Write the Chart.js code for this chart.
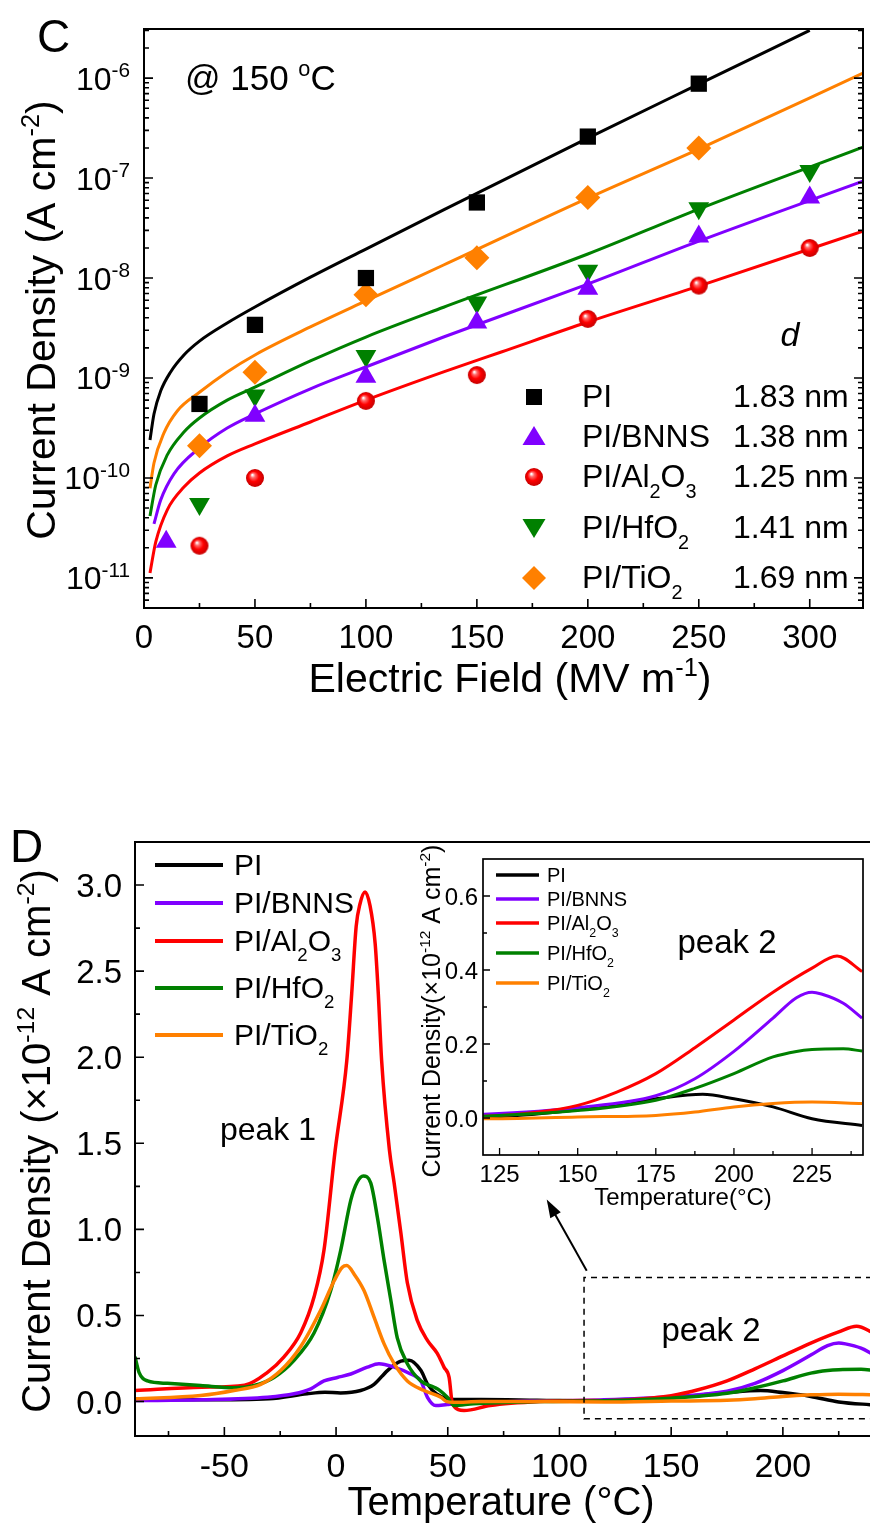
<!DOCTYPE html>
<html>
<head>
<meta charset="utf-8">
<script src="https://cdn.jsdelivr.net/npm/chart.js@4.4.1/dist/chart.umd.min.js"></script>
<style>
  body { margin: 0; background: #fff; }
  #wrap { position: relative; width: 870px; height: 1528px; }
  canvas { position: absolute; }
</style>
</head>
<body>
<div id="wrap">
  <canvas id="chartC" width="870" height="760" style="left:0;top:0"></canvas>
  <canvas id="chartD" width="870" height="728" style="left:0;top:800px"></canvas>
  <canvas id="chartInset" width="470" height="380" style="left:400px;top:845px"></canvas>
</div>
<script>
// ---------- panel C: leakage current density at 150 °C ----------
const fieldTicks = [0, 50, 100, 150, 200, 250, 300];
const logTickExp = [-6, -7, -8, -9, -10, -11];
const sampleNames = ["PI", "PI/BNNS", "PI/Al_{2}O_{3}", "PI/HfO_{2}", "PI/TiO_{2}"];
const hopDistance = ["1.83 nm", "1.38 nm", "1.25 nm", "1.41 nm", "1.69 nm"];

// measured points
const piE = [25, 50, 100, 150, 200, 250];
const piJ = [5.5e-10, 3.4e-9, 1.0e-8, 5.7e-8, 2.6e-7, 8.8e-7];
const bnnsE = [10, 50, 100, 150, 200, 250, 300];
const bnnsJ = [2.3e-11, 4.2e-10, 1.03e-9, 3.6e-9, 7.8e-9, 2.6e-8, 6.4e-8];
const alE = [25, 50, 100, 150, 200, 250, 300];
const alJ = [2.1e-11, 1.0e-10, 5.9e-10, 1.07e-9, 3.9e-9, 8.4e-9, 2.0e-8];
const hfE = [25, 50, 100, 150, 200, 250, 300];
const hfJ = [5.5e-11, 6.7e-10, 1.66e-9, 5.7e-9, 1.18e-8, 5.0e-8, 1.18e-7];
const tiE = [25, 50, 100, 150, 200, 250];
const tiJ = [2.1e-10, 1.14e-9, 6.8e-9, 1.6e-8, 6.4e-8, 2.0e-7];

// fitted curves
const piFitE = [2.7, 4.5, 7.5, 12, 18, 25, 37.5, 50, 75, 100, 135, 200, 250, 300];
const piFitJ = [2.4e-10, 4.37e-10, 7.4e-10, 1.15e-9, 1.7e-9, 2.34e-9, 3.55e-9, 5.13e-9, 1.02e-8, 1.95e-8, 4.8e-8, 2.51e-7, 8.7e-7, 3.0e-6];
const bnnsFitE = [4.5, 7.5, 13.5, 25, 37.5, 50, 75, 100, 135, 200, 250, 324];
const bnnsFitJ = [3.47e-11, 6.0e-11, 1.1e-10, 2.0e-10, 3.16e-10, 4.37e-10, 7.8e-10, 1.29e-9, 2.57e-9, 8.7e-9, 2.34e-8, 9.3e-8];
const alFitE = [2.7, 5.3, 10.5, 18, 25, 37.5, 50, 75, 100, 135, 161, 200, 250, 324];
const alFitJ = [1.12e-11, 2.29e-11, 4.8e-11, 8.1e-11, 1.12e-10, 1.66e-10, 2.19e-10, 3.63e-10, 6.0e-10, 1.15e-9, 1.82e-9, 3.63e-9, 8.3e-9, 2.95e-8];
const hfFitE = [2.7, 5.3, 10.5, 18, 25, 37.5, 50, 75, 100, 135, 200, 250, 324];
const hfFitJ = [4.17e-11, 8.5e-11, 1.7e-10, 2.88e-10, 3.98e-10, 6.0e-10, 8.1e-10, 1.48e-9, 2.57e-9, 5.1e-9, 1.74e-8, 4.9e-8, 2.04e-7];
const tiFitE = [2.7, 4.5, 9, 15, 25, 37.5, 50, 75, 100, 135, 200, 250, 324];
const tiFitJ = [7.9e-11, 1.41e-10, 2.82e-10, 4.68e-10, 7.2e-10, 1.15e-9, 1.7e-9, 3.24e-9, 5.9e-9, 1.35e-8, 6.3e-8, 1.95e-7, 1.12e-6];

// ---------- panel D: TSDC curves ----------
const tempTicks = [-50, 0, 50, 100, 150, 200];
const tsdcTicks = [0, 0.5, 1, 1.5, 2, 2.5, 3];
const insetTempTicks = [125, 150, 175, 200, 225];
const insetTsdcTicks = [0, 0.2, 0.4, 0.6];

const piT = [-90, -60, -30, -13, -5, 2, 11, 17, 23, 29, 32.7, 38, 41, 45, 53, 65, 90, 120, 150, 175, 190, 200, 212.5, 225, 241];
const piTSDC = [0.01, 0.01, 0.016, 0.045, 0.054, 0.05, 0.064, 0.10, 0.18, 0.235, 0.24, 0.18, 0.10, 0.045, 0.012, 0.012, 0.008, 0.003, 0.022, 0.052, 0.064, 0.052, 0.03, -0.002, -0.02];
const bnnsT = [-90, -60, -30.7, -18.8, -11.3, -5.4, 0.6, 6.6, 14, 19.2, 26, 33.4, 37.9, 40.9, 44.6, 49.8, 57, 80, 120, 150, 175, 187.5, 200, 212.5, 220, 225, 228, 235, 241];
const bnnsTSDC = [0.006, 0.01, 0.025, 0.045, 0.074, 0.12, 0.14, 0.16, 0.20, 0.22, 0.20, 0.16, 0.12, 0.025, -0.023, -0.017, -0.01, 0.0, 0.01, 0.028, 0.06, 0.106, 0.18, 0.27, 0.325, 0.34, 0.335, 0.31, 0.27];
const alT = [-90, -60, -41, -30.7, -23.3, -15.8, -9.8, -5.4, -0.4, 4.8, 7.0, 9.0, 10.7, 13.0, 15.2, 17.5, 18.9, 20.4, 23.9, 26, 29, 31.9, 36.4, 40.9, 45.3, 48.3, 50.6, 52.1, 57.3, 69, 91, 110.6, 120, 137.5, 150, 162.5, 175, 187.5, 200, 212.5, 225, 233, 241];
const alTSDC = [0.064, 0.083, 0.095, 0.17, 0.26, 0.40, 0.61, 0.88, 1.46, 1.98, 2.37, 2.76, 2.89, 2.96, 2.88, 2.66, 2.37, 1.98, 1.46, 1.27, 0.98, 0.69, 0.47, 0.355, 0.28, 0.20, 0.14, -0.013, -0.052, -0.023, 0.0, 0.006, 0.005, 0.016, 0.034, 0.07, 0.12, 0.19, 0.265, 0.34, 0.405, 0.438, 0.396];
const hfT = [-90, -88.2, -84.4, -75.5, -60.6, -45.7, -36.7, -27.8, -18.8, -9.8, -2.4, 2.1, 6.6, 9.5, 12.2, 15.5, 18.5, 21.5, 24.5, 27.4, 31.9, 37.9, 43.9, 46.5, 49.8, 52.8, 61.5, 91, 120, 150, 175, 187.5, 200, 212.5, 220, 225, 235, 241];
const hfTSDC = [0.26, 0.17, 0.12, 0.106, 0.093, 0.08, 0.093, 0.14, 0.24, 0.40, 0.645, 0.88, 1.17, 1.275, 1.31, 1.27, 1.07, 0.82, 0.59, 0.37, 0.22, 0.12, 0.083, 0.064, 0.025, -0.023, -0.013, 0.0, 0.005, 0.02, 0.048, 0.08, 0.12, 0.165, 0.18, 0.185, 0.187, 0.181];
const tiT = [-90, -60.6, -45.7, -33.7, -24.8, -15.8, -6.9, -0.9, 2.8, 4.8, 8.1, 12.5, 17, 21.5, 26, 31.9, 39.4, 46.9, 49.5, 52.8, 64.5, 90, 120, 150, 175, 187.5, 200, 212.5, 225, 241];
const tiTSDC = [0.016, 0.035, 0.064, 0.10, 0.18, 0.32, 0.53, 0.70, 0.78, 0.79, 0.74, 0.645, 0.49, 0.335, 0.22, 0.12, 0.064, 0.025, 0.0, -0.004, 0.0, 0.0, -0.002, 0.003, 0.007, 0.016, 0.03, 0.039, 0.043, 0.039];

// ---------- styling ----------
const FONT = '"Liberation Sans", Arial, sans-serif';
const BLACK = "#000000", PURPLE = "#8000ff", RED = "#ff0000", GREEN = "#008000", ORANGE = "#ff8000";
const colors = [BLACK, PURPLE, RED, GREEN, ORANGE];

const toXY = (xs, ys) => xs.map((x, i) => ({ x, y: ys[i] }));

// text with _{sub} and ^{sup}
function splitRich(str) {
  const out = [];
  const re = /([_^])\{([^}]*)\}/g;
  let last = 0, m;
  while ((m = re.exec(str))) {
    if (m.index > last) out.push([str.slice(last, m.index), 0]);
    out.push([m[2], m[1] === "^" ? 1 : -1]);
    last = re.lastIndex;
  }
  if (last < str.length) out.push([str.slice(last), 0]);
  return out;
}

function richText(ctx, str, x, y, size, opt = {}) {
  const segs = splitRich(str);
  const small = size * (opt.small || 0.62);
  const style = opt.italic ? "italic " : "";
  let w = 0;
  for (const [t, k] of segs) {
    ctx.font = style + (k ? small : size) + "px " + FONT;
    w += ctx.measureText(t).width;
  }
  ctx.save();
  ctx.translate(x, y);
  if (opt.rotate) ctx.rotate(opt.rotate);
  ctx.fillStyle = "#000";
  ctx.textAlign = "left";
  ctx.textBaseline = "alphabetic";
  let cx = opt.align === "center" ? -w / 2 : opt.align === "right" ? -w : 0;
  for (const [t, k] of segs) {
    ctx.font = style + (k ? small : size) + "px " + FONT;
    const dy = k === 1 ? -size * 0.4 : k === -1 ? size * 0.33 : 0;
    ctx.fillText(t, cx, dy);
    cx += ctx.measureText(t).width;
  }
  ctx.restore();
}

// shaded ball used for the Al2O3 points
function ball(r) {
  const c = document.createElement("canvas");
  c.width = c.height = 2 * r + 2;
  const g = c.getContext("2d");
  const m = r + 1;
  const grad = g.createRadialGradient(m - r * 0.3, m - r * 0.35, r * 0.05, m, m, r);
  grad.addColorStop(0, "#ffffff");
  grad.addColorStop(0.22, "#ff6a6a");
  grad.addColorStop(0.55, "#ff0000");
  grad.addColorStop(1, "#c40000");
  g.fillStyle = grad;
  g.beginPath();
  g.arc(m, m, r, 0, Math.PI * 2);
  g.fill();
  return c;
}
const redBall = ball(9);

function legendMarker(ctx, i, x, y) {
  ctx.fillStyle = colors[i];
  ctx.beginPath();
  if (i === 0) ctx.rect(x - 8, y - 8, 16, 16);
  else if (i === 1) { ctx.moveTo(x, y - 11); ctx.lineTo(x + 11.5, y + 8); ctx.lineTo(x - 11.5, y + 8); }
  else if (i === 2) { ctx.drawImage(redBall, x - redBall.width / 2, y - redBall.height / 2); return; }
  else if (i === 3) { ctx.moveTo(x - 11.5, y - 9); ctx.lineTo(x + 11.5, y - 9); ctx.lineTo(x, y + 10); }
  else { ctx.moveTo(x, y - 12); ctx.lineTo(x + 12, y); ctx.lineTo(x, y + 12); ctx.lineTo(x - 12, y); }
  ctx.closePath();
  ctx.fill();
}

// ---------- chart C ----------
const markerDs = (xs, ys, color, style, extra = {}) => Object.assign({
  data: toXY(xs, ys), showLine: false, pointStyle: style, pointRadius: 11.5,
  pointBackgroundColor: color, pointBorderWidth: 0, order: 0,
}, extra);
const fitDs = (xs, ys, color) => ({
  data: toXY(xs, ys), showLine: true, borderColor: color, borderWidth: 3,
  pointRadius: 0, cubicInterpolationMode: "monotone", order: 5,
});

const panelC = {
  id: "panelC",
  afterDraw(chart) {
    const { ctx, chartArea: a, scales: { x, y } } = chart;
    ctx.save();
    ctx.strokeStyle = "#000";
    ctx.lineWidth = 2;
    ctx.strokeRect(a.left, a.top, a.right - a.left, a.bottom - a.top);
    ctx.lineWidth = 1.6;
    ctx.beginPath();
    for (let v = 0; v <= x.max; v += 25) {
      const px = x.getPixelForValue(v);
      const len = v % 50 ? 5 : 9;
      ctx.moveTo(px, a.bottom); ctx.lineTo(px, a.bottom - len);
    }
    for (let e = -12; e <= -6; e++) {
      for (let k = 1; k < 10; k++) {
        const v = k * Math.pow(10, e);
        if (v < y.min || v > y.max) continue;
        const py = y.getPixelForValue(v);
        const len = k === 1 ? 9 : 5;
        ctx.moveTo(a.left, py); ctx.lineTo(a.left + len, py);
        ctx.moveTo(a.right, py); ctx.lineTo(a.right - len, py);
      }
    }
    ctx.stroke();

    ctx.fillStyle = "#000";
    ctx.font = "33px " + FONT;
    ctx.textAlign = "center";
    fieldTicks.forEach(v => ctx.fillText(String(v), x.getPixelForValue(v), 648));
    logTickExp.forEach(e => richText(ctx, "10^{" + e + "}", a.left - 14, y.getPixelForValue(Math.pow(10, e)) + 11.5, 32, { align: "right", small: 0.65 }));

    richText(ctx, "Electric Field (MV m^{-1})", 510, 692, 41, { align: "center" });
    richText(ctx, "Current Density (A cm^{-2})", 55, 320, 41, { align: "center", rotate: -Math.PI / 2 });
    richText(ctx, "C", 37, 52, 46);
    richText(ctx, "@ 150 ^{o}C", 185, 90, 35);
    richText(ctx, "d", 790, 346, 34, { align: "center", italic: true });

    const rows = [397, 437, 477, 528, 578];
    rows.forEach((ry, i) => {
      legendMarker(ctx, i, 534, ry);
      richText(ctx, sampleNames[i], 582, ry + 10, 32);
      richText(ctx, hopDistance[i], 733, ry + 10, 32);
    });
    ctx.restore();
  }
};

new Chart(document.getElementById("chartC"), {
  type: "scatter",
  data: {
    datasets: [
      markerDs(piE, piJ, BLACK, "rect"),
      markerDs(bnnsE, bnnsJ, PURPLE, "triangle", { pointRadius: 12 }),
      markerDs(alE, alJ, RED, redBall, { pointRadius: 9 }),
      markerDs(hfE, hfJ, GREEN, "triangle", { pointRadius: 12, pointRotation: 180 }),
      markerDs(tiE, tiJ, ORANGE, "rectRot", { pointRadius: 12.5 }),
      fitDs(piFitE, piFitJ, BLACK),
      fitDs(bnnsFitE, bnnsFitJ, PURPLE),
      fitDs(alFitE, alFitJ, RED),
      fitDs(hfFitE, hfFitJ, GREEN),
      fitDs(tiFitE, tiFitJ, ORANGE),
    ],
  },
  options: {
    responsive: false,
    animation: false,
    devicePixelRatio: 1,
    layout: { autoPadding: false, padding: { left: 144, top: 29, right: 7, bottom: 152 } },
    scales: {
      x: { type: "linear", min: 0, max: 324, display: false },
      y: { type: "logarithmic", min: 5e-12, max: 3.1e-6, display: false },
    },
    plugins: { legend: { display: false }, tooltip: { enabled: false } },
  },
  plugins: [panelC],
});

// ---------- chart D and inset ----------
const tsdcSeries = [[piT, piTSDC], [bnnsT, bnnsTSDC], [alT, alTSDC], [hfT, hfTSDC], [tiT, tiTSDC]];
const tsdcDatasets = width => tsdcSeries.map(([xs, ys], i) => ({
  data: toXY(xs, ys), borderColor: colors[i], borderWidth: width, pointRadius: 0,
  cubicInterpolationMode: "monotone", fill: false, order: 4 - i,
}));

const panelD = {
  id: "panelD",
  afterDraw(chart) {
    const { ctx, chartArea: a, scales: { x, y } } = chart;
    ctx.save();
    ctx.strokeStyle = "#000";
    ctx.lineWidth = 2;
    ctx.beginPath();
    ctx.moveTo(a.right + 2, a.top); ctx.lineTo(a.left, a.top);
    ctx.lineTo(a.left, a.bottom); ctx.lineTo(a.right + 2, a.bottom);
    ctx.stroke();
    ctx.lineWidth = 1.6;
    ctx.beginPath();
    for (let v = -75; v <= x.max; v += 25) {
      const px = x.getPixelForValue(v);
      const len = v % 50 ? 5 : 9;
      ctx.moveTo(px, a.bottom); ctx.lineTo(px, a.bottom - len);
    }
    for (let i = 0; i * 0.25 <= y.max; i++) {
      const py = y.getPixelForValue(i * 0.25);
      ctx.moveTo(a.left, py); ctx.lineTo(a.left + (i % 2 ? 5 : 9), py);
    }
    ctx.stroke();

    ctx.fillStyle = "#000";
    ctx.font = "34px " + FONT;
    ctx.textAlign = "center";
    tempTicks.forEach(v => ctx.fillText(String(v), x.getPixelForValue(v), 677));
    ctx.font = "33px " + FONT;
    ctx.textAlign = "right";
    tsdcTicks.forEach(v => ctx.fillText(v.toFixed(1), 122, y.getPixelForValue(v) + 12));

    richText(ctx, "Temperature (°C)", 501, 715, 40, { align: "center" });
    richText(ctx, "Current Density (×10^{-12} A cm^{-2})", 50, 341, 40, { align: "center", rotate: -Math.PI / 2 });
    richText(ctx, "D", 10, 62, 46);
    richText(ctx, "peak 1", 268, 340, 32, { align: "center" });
    richText(ctx, "peak 2", 711, 541, 33, { align: "center" });

    const rows = [65, 103, 141, 188, 235];
    rows.forEach((ry, i) => {
      ctx.strokeStyle = colors[i];
      ctx.lineWidth = 4;
      ctx.beginPath(); ctx.moveTo(155, ry); ctx.lineTo(223, ry); ctx.stroke();
      richText(ctx, sampleNames[i], 234, ry + 10, 30);
    });

    // dashed zoom window and arrow to the inset
    const bx = x.getPixelForValue(111), bt = y.getPixelForValue(0.72), bb = y.getPixelForValue(-0.1);
    ctx.strokeStyle = "#000";
    ctx.lineWidth = 1.5;
    ctx.setLineDash([6, 5]);
    ctx.beginPath();
    ctx.moveTo(a.right + 2, bt); ctx.lineTo(bx, bt); ctx.lineTo(bx, bb); ctx.lineTo(a.right + 2, bb);
    ctx.stroke();
    ctx.setLineDash([]);
    const x1 = x.getPixelForValue(112.2), y1 = y.getPixelForValue(0.76);
    const x2 = x.getPixelForValue(94.3), y2 = y.getPixelForValue(1.173);
    const ang = Math.atan2(y2 - y1, x2 - x1);
    ctx.lineWidth = 2;
    ctx.beginPath();
    ctx.moveTo(x1, y1);
    ctx.lineTo(x2 - 14 * Math.cos(ang), y2 - 14 * Math.sin(ang));
    ctx.stroke();
    ctx.fillStyle = "#000";
    ctx.beginPath();
    ctx.moveTo(x2, y2);
    ctx.lineTo(x2 - 18 * Math.cos(ang) + 6 * Math.sin(ang), y2 - 18 * Math.sin(ang) - 6 * Math.cos(ang));
    ctx.lineTo(x2 - 18 * Math.cos(ang) - 6 * Math.sin(ang), y2 - 18 * Math.sin(ang) + 6 * Math.cos(ang));
    ctx.closePath();
    ctx.fill();
    ctx.restore();
  }
};

new Chart(document.getElementById("chartD"), {
  type: "line",
  data: { datasets: tsdcDatasets(3.5) },
  options: {
    responsive: false,
    animation: false,
    devicePixelRatio: 1,
    layout: { autoPadding: false, padding: { left: 135, top: 42, right: 0, bottom: 92 } },
    scales: {
      x: { type: "linear", min: -90, max: 239, display: false },
      y: { type: "linear", min: -0.2, max: 3.25, display: false },
    },
    plugins: { legend: { display: false }, tooltip: { enabled: false } },
  },
  plugins: [panelD],
});

const panelInset = {
  id: "panelInset",
  afterDraw(chart) {
    const { ctx, chartArea: a, scales: { x, y } } = chart;
    ctx.save();
    ctx.strokeStyle = "#000";
    ctx.lineWidth = 1.7;
    ctx.strokeRect(a.left, a.top, a.right - a.left, a.bottom - a.top);
    ctx.lineWidth = 1.3;
    ctx.beginPath();
    for (let i = 0; 125 + i * 12.5 <= x.max; i++) {
      const px = x.getPixelForValue(125 + i * 12.5);
      ctx.moveTo(px, a.bottom); ctx.lineTo(px, a.bottom - (i % 2 ? 4 : 7));
    }
    for (let i = 0; i * 0.1 < y.max; i++) {
      const py = y.getPixelForValue(i * 0.1);
      ctx.moveTo(a.left, py); ctx.lineTo(a.left + (i % 2 ? 4 : 7), py);
    }
    ctx.stroke();

    ctx.fillStyle = "#000";
    ctx.font = "24px " + FONT;
    ctx.textAlign = "center";
    insetTempTicks.forEach(v => ctx.fillText(String(v), x.getPixelForValue(v), 337));
    ctx.textAlign = "right";
    insetTsdcTicks.forEach(v => ctx.fillText(v.toFixed(1), 78, y.getPixelForValue(v) + 8.5));

    richText(ctx, "Temperature(°C)", 283, 360, 24, { align: "center" });
    richText(ctx, "Current Density(×10^{-12} A cm^{-2})", 40, 166, 25, { align: "center", rotate: -Math.PI / 2 });
    richText(ctx, "peak 2", 327, 108, 33, { align: "center" });

    const rows = [30, 54, 78, 108, 138];
    rows.forEach((ry, i) => {
      ctx.strokeStyle = colors[i];
      ctx.lineWidth = 3.5;
      ctx.beginPath(); ctx.moveTo(96, ry); ctx.lineTo(139, ry); ctx.stroke();
      richText(ctx, sampleNames[i], 147, ry + 7, 20);
    });
    ctx.restore();
  }
};

new Chart(document.getElementById("chartInset"), {
  type: "line",
  data: { datasets: tsdcDatasets(3) },
  options: {
    responsive: false,
    animation: false,
    devicePixelRatio: 1,
    layout: { autoPadding: false, padding: { left: 83, top: 14, right: 7, bottom: 70 } },
    scales: {
      x: { type: "linear", min: 119.7, max: 241.3, display: false },
      y: { type: "linear", min: -0.1, max: 0.7, display: false },
    },
    plugins: { legend: { display: false }, tooltip: { enabled: false } },
  },
  plugins: [panelInset],
});
</script>
</body>
</html>
